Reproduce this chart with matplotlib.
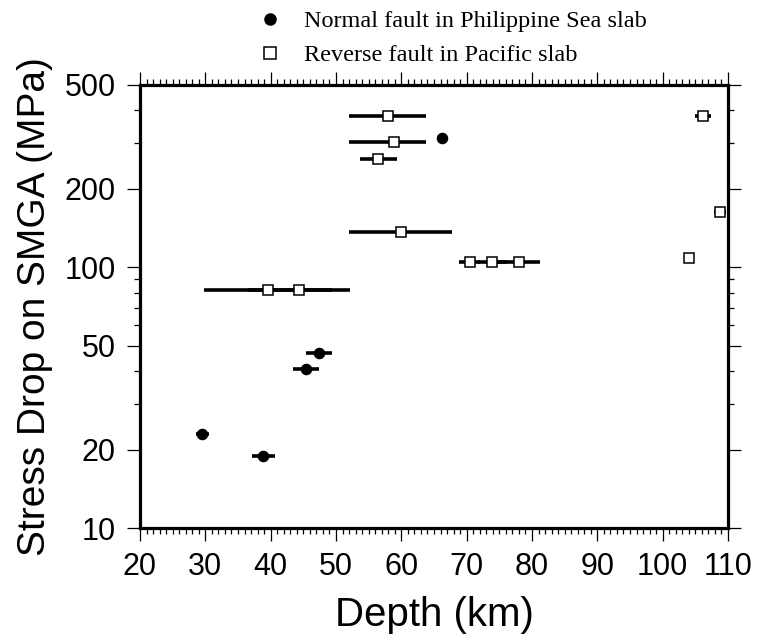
import numpy as np
import matplotlib
matplotlib.use("Agg")
import matplotlib.pyplot as plt
from matplotlib.lines import Line2D
from matplotlib.ticker import FixedLocator, NullFormatter, MultipleLocator

# Normal fault in Philippine Sea slab (filled circles)
depth_n = np.array([29.5, 38.8, 45.4, 47.4, 66.2])
depth_n_lo = np.array([28.5, 37.2, 43.4, 45.4, 66.2])
depth_n_hi = np.array([30.6, 40.6, 47.4, 49.4, 66.2])
stress_n = np.array([22.9, 18.9, 40.8, 46.8, 312])

# Reverse fault in Pacific slab (open squares)
depth_r = np.array([57.9, 58.9, 56.5, 60.0, 39.6, 44.3, 70.5, 73.9, 78.0, 106.2, 108.7, 104.0])
depth_r_lo = np.array([52.0, 52.0, 53.7, 52.0, 29.8, 36.5, 68.9, 71.7, 74.7, 105.0, 107.8, 104.0])
depth_r_hi = np.array([63.8, 63.8, 59.3, 67.8, 49.4, 52.1, 72.1, 76.1, 81.3, 107.4, 109.7, 104.0])
stress_r = np.array([381, 301, 260, 136, 81.5, 81.5, 104.4, 104.4, 104.4, 381, 163, 108.8])

yticks = [10, 20, 50, 100, 200, 500]
yminor = [30, 40, 60, 70, 80, 90, 300, 400]
xticks = np.arange(20, 111, 10)

plt.rcParams['font.family'] = ['Liberation Sans', 'DejaVu Sans']

fig = plt.figure(figsize=(7.59, 6.35), dpi=100)
ax = fig.add_axes([140 / 759, 1 - 528 / 635, 588 / 759, 443 / 635])

ax.errorbar(depth_n, stress_n,
            xerr=[depth_n - depth_n_lo, depth_n_hi - depth_n],
            fmt='o', color='k', ms=7.3, elinewidth=2.6, capsize=0, zorder=3)
ax.errorbar(depth_r, stress_r,
            xerr=[depth_r - depth_r_lo, depth_r_hi - depth_r],
            fmt='s', mfc='white', mec='k', mew=1.1, ecolor='k', ms=7.5,
            elinewidth=2.6, capsize=0, zorder=3)

ax.set_xlim(20, 110)
ax.set_yscale('log')
ax.set_ylim(10, 500)
ax.yaxis.set_major_locator(FixedLocator(yticks))
ax.yaxis.set_minor_locator(FixedLocator(yminor))
ax.yaxis.set_minor_formatter(NullFormatter())
ax.set_yticklabels([str(v) for v in yticks])
ax.xaxis.set_major_locator(FixedLocator(xticks))
ax.xaxis.set_minor_locator(MultipleLocator(1))
ax.set_xticklabels([str(v) for v in xticks])

for s in ax.spines.values():
    s.set_linewidth(2.3)
ax.tick_params(which='both', direction='out', top=True, right=True,
               width=0.9, labelsize=22, pad=8)
ax.tick_params(which='major', length=9.5)
ax.tick_params(which='minor', length=4.5)

ax.set_xlabel('Depth (km)', fontsize=29, labelpad=10)
ax.set_ylabel('Stress Drop on SMGA (MPa)', fontsize=28, labelpad=8)

handles = [Line2D([], [], ls='none', marker='o', color='k', ms=8),
           Line2D([], [], ls='none', marker='s', mfc='white', mec='k', mew=1.1, ms=9)]
fig.legend(handles, ['Normal fault in Philippine Sea slab', 'Reverse fault in Pacific slab'],
           loc='upper left', bbox_to_anchor=(258 / 759, 1 - 10 / 635),
           frameon=False, prop={'family': 'Liberation Serif', 'size': 17.5},
           handlelength=1.0, handletextpad=0.9, labelspacing=0.5, borderpad=0,
           borderaxespad=0)

fig.savefig('out.png', dpi=100)
